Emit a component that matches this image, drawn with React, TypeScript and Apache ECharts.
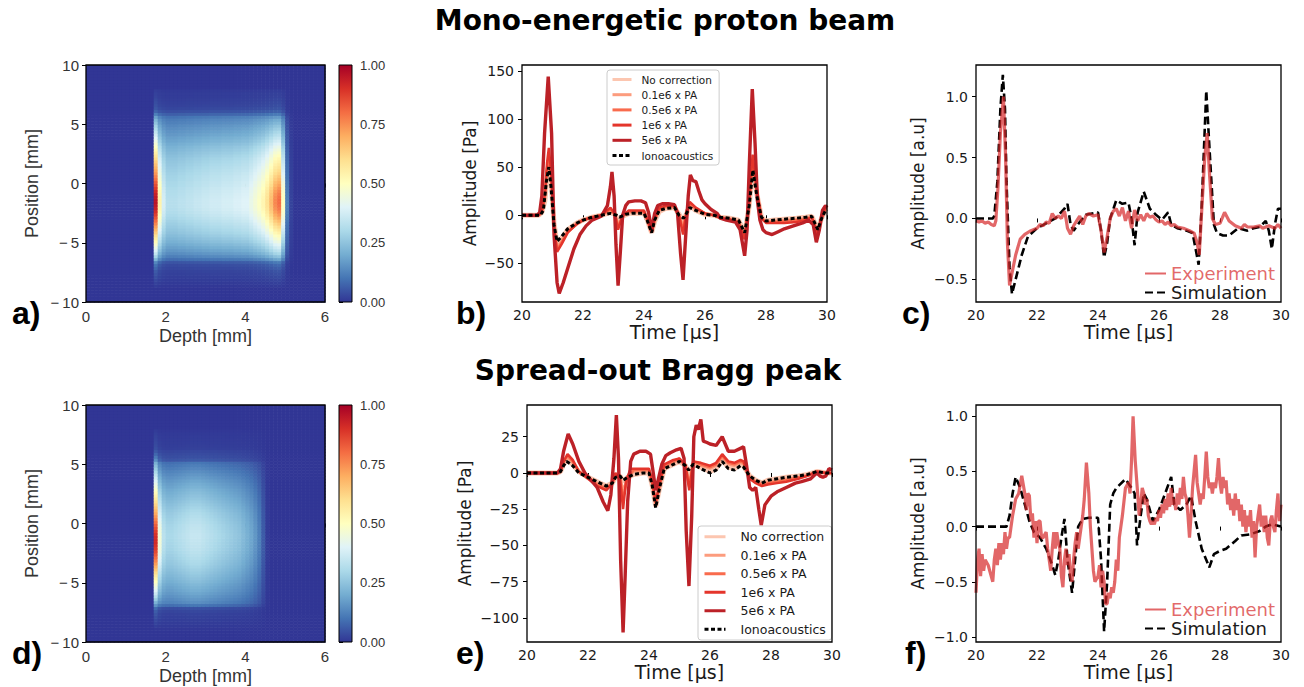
import React, { useEffect, useRef } from "react";
import * as echarts from "echarts";

// ---------------- DATA ----------------
// Dose maps, read as a broad "body" component plus narrow peaks.
// Depth profiles: 0.1 mm bins over 0..6 mm. Lateral profiles: 0.25 mm bins over -10..10 mm.
const BODY_DEPTH_A = [
  0, 0, 0, 0, 0, 0, 0, 0, 0, 0, 0, 0, 0, 0, 0, 0, 0,
  0.36, 0.34, 0.33, 0.32, 0.32, 0.32, 0.33, 0.33, 0.34, 0.34, 0.35, 0.35, 0.36,
  0.36, 0.37, 0.37, 0.37, 0.38, 0.38, 0.38, 0.39, 0.39, 0.4,
  0.4, 0.4, 0.41, 0.41, 0.41, 0.41, 0.41, 0.4, 0.38, 0.28, 0.08, 0.02,
  0, 0, 0, 0, 0, 0, 0, 0,
];
const PEAK_DEPTH_A = [
  0, 0, 0, 0, 0, 0, 0, 0, 0, 0, 0, 0, 0, 0, 0, 0, 0,
  0.6, 0.2, 0.05,
  0, 0, 0, 0, 0, 0, 0, 0, 0, 0, 0, 0, 0, 0, 0, 0, 0, 0, 0, 0, 0,
  0.03, 0.05, 0.08, 0.12, 0.18, 0.26, 0.36, 0.42, 0.22, 0.04,
  0, 0, 0, 0, 0, 0, 0, 0, 0,
];
const BODY_LAT_A = [
  0, 0, 0, 0, 0, 0.01, 0.02, 0.03,
  0.04, 0.05, 0.06, 0.08, 0.1, 0.15, 0.28, 0.37,
  0.44, 0.5, 0.55, 0.6, 0.65, 0.69, 0.73, 0.77,
  0.8, 0.83, 0.86, 0.89, 0.92, 0.95, 0.97, 0.99,
  1.0, 1.0, 1.0, 0.99, 0.98, 0.97, 0.96, 0.94,
  0.93, 0.91, 0.9, 0.88, 0.86, 0.84, 0.82, 0.8,
  0.78, 0.75, 0.72, 0.69, 0.66, 0.62, 0.58, 0.55,
  0.51, 0.48, 0.45, 0.42, 0.38, 0.35, 0.3, 0.2,
  0.12, 0.08, 0.06, 0.05, 0.04, 0.03, 0.03, 0.02,
  0, 0, 0, 0, 0, 0, 0, 0,
];
const PEAK_LAT = [
  0, 0, 0, 0, 0, 0.01, 0.02, 0.03,
  0.04, 0.05, 0.06, 0.08, 0.1, 0.13, 0.2, 0.26,
  0.31, 0.35, 0.39, 0.43, 0.47, 0.51, 0.55, 0.6,
  0.65, 0.7, 0.75, 0.8, 0.85, 0.89, 0.93, 0.96,
  0.98, 1.0, 1.0, 0.99, 0.97, 0.94, 0.9, 0.86,
  0.82, 0.78, 0.74, 0.7, 0.67, 0.64, 0.61, 0.58,
  0.55, 0.52, 0.49, 0.46, 0.43, 0.4, 0.37, 0.34,
  0.31, 0.28, 0.25, 0.22, 0.19, 0.16, 0.12, 0.08,
  0.05, 0.04, 0.035, 0.03, 0.025, 0.02, 0.015, 0.01,
  0, 0, 0, 0, 0, 0, 0, 0,
];
const BODY_DEPTH_D = [
  0, 0, 0, 0, 0, 0, 0, 0, 0, 0, 0, 0, 0, 0, 0, 0, 0,
  0.32, 0.31, 0.3, 0.3, 0.3, 0.31, 0.32, 0.33, 0.34, 0.35, 0.35, 0.35, 0.34,
  0.33, 0.32, 0.31, 0.3, 0.29, 0.28, 0.27, 0.26, 0.25, 0.23, 0.21, 0.19, 0.16,
  0.12, 0.06, 0.01,
  0, 0, 0, 0, 0, 0, 0, 0, 0, 0, 0, 0, 0, 0,
];
const PEAK_DEPTH_D = [
  0, 0, 0, 0, 0, 0, 0, 0, 0, 0, 0, 0, 0, 0, 0, 0, 0,
  0.6, 0.15, 0.03,
  0, 0, 0, 0, 0, 0, 0, 0, 0, 0, 0, 0, 0, 0, 0, 0, 0, 0, 0, 0,
  0, 0, 0, 0, 0, 0, 0, 0, 0, 0, 0, 0, 0, 0, 0, 0, 0, 0, 0, 0,
];
const BODY_LAT_D = [
  0, 0, 0, 0, 0.01, 0.02, 0.03, 0.04,
  0.05, 0.06, 0.08, 0.12, 0.3, 0.42, 0.46, 0.5,
  0.54, 0.58, 0.61, 0.64, 0.68, 0.71, 0.74, 0.77,
  0.8, 0.83, 0.86, 0.88, 0.9, 0.92, 0.94, 0.96,
  0.97, 0.98, 0.99, 1.0, 1.0, 0.99, 0.98, 0.97,
  0.95, 0.93, 0.91, 0.89, 0.86, 0.83, 0.8, 0.77,
  0.74, 0.71, 0.68, 0.65, 0.61, 0.58, 0.54, 0.5,
  0.46, 0.42, 0.38, 0.34, 0.3, 0.16, 0.12, 0.1,
  0.08, 0.05, 0.04, 0.035, 0.03, 0.025, 0.02, 0.01,
  0, 0, 0, 0, 0, 0, 0, 0,
];

const DEPTH_TICKS_INTERVAL = 2;
const POSITION_TICKS_INTERVAL = 5;
const COLORBAR_INTERVAL = 0.25;
const B_Y_TICKS = [-50, 0, 50, 100, 150];
const C_Y_TICKS = [-0.5, 0, 0.5, 1.0];
const E_Y_TICKS = [-100, -75, -50, -25, 0, 25];
const F_Y_TICKS = [-1, -0.5, 0, 0.5, 1];

const SERIES_NAMES = ["No correction", "0.1e6 x PA", "0.5e6 x PA", "1e6 x PA", "5e6 x PA", "Ionoacoustics"];

// Panel b (mono-energetic), amplitude [Pa] vs time [us]
const B_NOCORR = [[20,0],[20.55,0],[20.65,3],[20.75,15],[20.82,40],[20.88,53],[20.95,36],[21.05,-8],[21.15,-30],[21.3,-24],[21.5,-15],[21.8,-8],[22,-5],[22.3,-2],[22.6,0],[22.9,3],[23.05,1],[23.15,-6],[23.3,-1],[23.5,2],[24,2],[24.1,-4],[24.25,-18],[24.35,-6],[24.5,4],[24.7,7],[25,8],[25.15,1],[25.28,-6],[25.4,2],[25.5,10],[25.7,5],[26,1],[26.3,0],[26.5,-2],[26.8,-3],[27.1,-5],[27.3,-19],[27.45,10],[27.56,50],[27.7,22],[27.85,-2],[28,-6],[28.3,-5],[28.6,-4],[29,-3],[29.3,-2],[29.5,-1],[29.6,-8],[29.7,-16],[29.8,-5],[29.95,6],[30,7]];
const B_01 = [[20,0],[20.55,0],[20.65,3],[20.75,17],[20.82,44],[20.88,57],[20.95,38],[21.05,-10],[21.15,-33],[21.3,-26],[21.5,-16],[21.8,-8],[22,-5],[22.3,-2],[22.6,0],[22.9,4],[23.05,1],[23.15,-9],[23.3,-1],[23.5,3],[24,3],[24.1,-4],[24.25,-18],[24.35,-5],[24.5,5],[24.7,8],[25,8],[25.15,0],[25.28,-10],[25.4,3],[25.5,11],[25.7,6],[26,1],[26.3,0],[26.5,-2],[26.8,-3],[27.1,-6],[27.3,-21],[27.45,12],[27.56,53],[27.7,23],[27.85,-2],[28,-7],[28.3,-6],[28.6,-5],[29,-4],[29.3,-3],[29.5,-1],[29.6,-9],[29.7,-17],[29.8,-5],[29.95,6],[30,7]];
const B_05 = [[20,0],[20.55,0],[20.65,4],[20.75,19],[20.82,48],[20.88,62],[20.95,42],[21.05,-11],[21.15,-36],[21.3,-28],[21.5,-17],[21.8,-9],[22,-5],[22.3,-2],[22.6,0],[22.9,6],[23.05,1],[23.15,-12],[23.3,-1],[23.5,4],[24,4],[24.1,-4],[24.25,-18],[24.35,-5],[24.5,6],[24.7,9],[25,9],[25.15,0],[25.28,-15],[25.4,4],[25.5,12],[25.7,7],[26,2],[26.3,0],[26.5,-2],[26.8,-4],[27.1,-7],[27.3,-23],[27.45,13],[27.56,57],[27.7,25],[27.85,-3],[28,-7],[28.3,-7],[28.6,-6],[29,-5],[29.3,-4],[29.5,-2],[29.6,-10],[29.7,-19],[29.8,-5],[29.95,7],[30,8]];
const B_1E6 = [[20,0],[20.55,0],[20.65,4],[20.75,22],[20.82,54],[20.88,70],[20.95,46],[21.05,-12],[21.15,-38],[21.3,-30],[21.5,-18],[21.8,-9],[22,-5],[22.3,-2],[22.6,0],[22.9,8],[23.05,1],[23.15,-15],[23.3,0],[23.5,5],[24,5],[24.1,-4],[24.25,-18],[24.35,-4],[24.5,8],[24.7,10],[25,10],[25.15,0],[25.28,-20],[25.4,5],[25.5,14],[25.7,8],[26,2],[26.3,0],[26.5,-3],[26.8,-4],[27.1,-8],[27.3,-25],[27.45,14],[27.56,63],[27.7,27],[27.85,-3],[28,-8],[28.3,-8],[28.6,-8],[29,-7],[29.3,-5],[29.5,-2],[29.6,-11],[29.7,-21],[29.8,-5],[29.95,8],[30,9]];
const B_5E6 = [[20,0],[20.5,0],[20.58,3],[20.65,20],[20.74,85],[20.86,144],[20.97,85],[21.05,-20],[21.15,-70],[21.22,-81],[21.35,-70],[21.5,-55],[21.7,-35],[21.9,-20],[22.1,-11],[22.3,-5],[22.6,-1],[22.8,10],[22.9,30],[22.95,45],[23.02,20],[23.08,-30],[23.15,-73],[23.22,-40],[23.3,0],[23.4,10],[23.5,14],[23.7,15],[23.9,15],[24.05,13],[24.15,3],[24.25,-15],[24.35,2],[24.45,10],[24.6,12],[24.8,12],[25,11],[25.1,2],[25.2,-40],[25.28,-67],[25.36,-25],[25.45,20],[25.52,42],[25.6,36],[25.7,35],[25.8,25],[25.9,16],[26,12],[26.2,6],[26.4,2],[26.5,-3],[26.7,-5],[27,-7],[27.15,-15],[27.3,-42],[27.38,-15],[27.45,50],[27.55,131],[27.64,75],[27.72,15],[27.8,-5],[27.9,-15],[28,-18],[28.2,-20],[28.4,-17],[28.6,-14],[28.8,-12],[29,-10],[29.2,-8],[29.4,-5],[29.55,-10],[29.65,-28],[29.75,-15],[29.85,5],[29.95,10],[30,8]];
const B_IONO = [[20,0],[20.6,0],[20.7,5],[20.8,35],[20.88,50],[20.95,30],[21.05,-10],[21.15,-27],[21.3,-22],[21.5,-14],[21.8,-8],[22,-5],[22.3,-2],[22.6,0],[22.9,2],[23.1,0],[23.2,-2],[23.4,1],[23.6,2],[24,2],[24.1,-5],[24.25,-18],[24.35,-5],[24.5,5],[24.7,7],[25,8],[25.15,0],[25.3,-3],[25.5,8],[25.7,5],[26,1],[26.3,0],[26.5,-2],[26.8,-3],[27.1,-5],[27.3,-18],[27.45,10],[27.57,47],[27.7,20],[27.85,-2],[28,-6],[28.3,-5],[28.6,-4],[29,-3],[29.3,-2],[29.5,-1],[29.6,-8],[29.7,-15],[29.8,-5],[29.95,5],[30,6]];

// Panel c (mono-energetic), normalised amplitude
const C_SIM = [[20,0],[20.55,0],[20.6,0.02],[20.7,0.3],[20.8,0.9],[20.88,1.18],[20.95,0.9],[21.0,0.3],[21.1,-0.4],[21.18,-0.62],[21.3,-0.5],[21.5,-0.3],[21.7,-0.15],[22,-0.08],[22.3,-0.04],[22.6,0],[22.9,0.08],[23,0.12],[23.1,-0.05],[23.2,-0.1],[23.4,-0.03],[23.6,0.03],[24,0.05],[24.1,-0.1],[24.2,-0.32],[24.3,-0.2],[24.4,0],[24.6,0.15],[24.8,0.12],[25,0.13],[25.1,0],[25.2,-0.22],[25.3,0.05],[25.5,0.22],[25.7,0.08],[25.9,0.03],[26.1,-0.01],[26.3,0.05],[26.4,-0.05],[26.6,-0.08],[26.9,-0.1],[27.1,-0.12],[27.3,-0.38],[27.4,0.1],[27.55,1.05],[27.65,0.6],[27.8,-0.05],[27.9,-0.12],[28.1,-0.14],[28.3,-0.14],[28.6,-0.08],[28.9,-0.1],[29.1,-0.08],[29.3,-0.07],[29.5,-0.02],[29.6,-0.1],[29.7,-0.25],[29.8,-0.05],[29.9,0.08],[30,0.08]];
const C_EXP = [[20,-0.02],[20.1,-0.03],[20.2,-0.02],[20.3,-0.04],[20.4,-0.03],[20.5,-0.05],[20.6,-0.06],[20.65,-0.02],[20.72,0.25],[20.8,0.7],[20.9,1.0],[20.97,0.5],[21.03,-0.2],[21.1,-0.55],[21.18,-0.45],[21.3,-0.3],[21.45,-0.17],[21.6,-0.13],[21.8,-0.1],[22,-0.08],[22.1,-0.05],[22.2,-0.06],[22.3,-0.03],[22.4,-0.04],[22.5,0.04],[22.6,0.0],[22.7,0.02],[22.8,0.0],[22.9,0.06],[22.95,0.0],[23.0,-0.08],[23.1,-0.13],[23.2,-0.06],[23.3,-0.02],[23.4,0.02],[23.5,-0.05],[23.6,0.02],[23.7,0.04],[23.85,0.02],[24,0.03],[24.1,-0.1],[24.2,-0.28],[24.3,-0.15],[24.4,0.0],[24.5,0.06],[24.6,0.08],[24.7,0.02],[24.8,0.09],[24.9,-0.02],[25,0.06],[25.1,-0.08],[25.2,0.07],[25.3,-0.02],[25.4,0.03],[25.5,-0.02],[25.6,0.04],[25.7,0.01],[25.8,0.02],[25.9,-0.01],[26,-0.03],[26.1,-0.02],[26.2,-0.05],[26.3,-0.03],[26.4,-0.06],[26.5,-0.05],[26.6,-0.07],[26.8,-0.08],[27,-0.1],[27.15,-0.12],[27.25,-0.2],[27.32,-0.3],[27.42,0.15],[27.5,0.5],[27.58,0.7],[27.66,0.35],[27.75,0.0],[27.85,-0.05],[28,-0.04],[28.15,0.05],[28.3,-0.02],[28.5,-0.06],[28.7,-0.08],[28.8,-0.05],[28.9,-0.07],[29.1,-0.07],[29.3,-0.06],[29.4,-0.08],[29.6,-0.06],[29.8,-0.08],[29.9,-0.05],[30,-0.08]];

// Panel e (SOBP), amplitude [Pa]
const E_NOCORR = [[20,0],[21,0],[21.1,1],[21.2,6],[21.3,9],[21.5,6],[21.7,1],[22,-3],[22.3,-6],[22.6,-9],[22.8,-7],[22.9,-3],[23.05,-2],[23.15,-6],[23.3,-3],[23.5,-1],[23.8,0],[24,0],[24.1,-8],[24.22,-23],[24.35,-10],[24.5,3],[24.8,6],[25,8],[25.2,5],[25.32,-1],[25.45,6],[25.7,4],[26,1],[26.2,3],[26.4,9],[26.6,4],[26.8,3],[27,6],[27.1,5],[27.3,-2],[27.5,-5],[27.7,-7],[27.9,-5],[28.2,-4],[28.5,-3],[28.9,-2],[29.2,-1],[29.5,1],[29.8,0],[30,0]];
const E_01 = [[20,0],[21,0],[21.1,1],[21.2,7],[21.33,11],[21.5,7],[21.7,1],[22,-3],[22.3,-7],[22.6,-10],[22.8,-7],[22.9,-2],[23.05,-2],[23.15,-12],[23.3,-3],[23.5,1],[23.8,1],[24,1],[24.1,-7],[24.22,-22],[24.35,-9],[24.5,4],[24.8,7],[25,9],[25.2,5],[25.32,-6],[25.45,7],[25.7,5],[26,3],[26.2,5],[26.4,11],[26.6,6],[26.8,5],[27,7],[27.1,6],[27.3,-3],[27.5,-6],[27.7,-7],[27.9,-6],[28.2,-5],[28.5,-4],[28.9,-3],[29.2,-1],[29.5,1],[29.8,0],[30,0]];
const E_05 = [[20,0],[21,0],[21.1,1],[21.2,8],[21.33,12],[21.5,8],[21.7,1],[22,-3],[22.3,-8],[22.6,-11],[22.8,-7],[22.9,-1],[23.05,-3],[23.15,-18],[23.3,-3],[23.5,2],[23.8,2],[24,2],[24.1,-6],[24.22,-21],[24.35,-8],[24.5,5],[24.8,8],[25,10],[25.2,5],[25.32,-10],[25.45,8],[25.7,6],[26,4],[26.2,6],[26.4,12],[26.6,7],[26.8,6],[27,8],[27.1,7],[27.3,-3],[27.5,-6],[27.7,-8],[27.9,-7],[28.2,-6],[28.5,-5],[28.9,-3],[29.2,-2],[29.5,1],[29.8,0],[30,0]];
const E_1E6 = [[20,0],[21,0],[21.1,1],[21.2,8],[21.33,13],[21.5,9],[21.7,1],[22,-4],[22.3,-9],[22.6,-12],[22.8,-7],[22.9,0],[23.05,-4],[23.15,-25],[23.25,-5],[23.4,3],[23.6,3],[24,3],[24.1,-5],[24.22,-20],[24.35,-7],[24.5,6],[24.8,9],[25,10],[25.2,5],[25.32,-12],[25.45,8],[25.7,7],[26,5],[26.2,7],[26.4,13],[26.6,8],[26.8,7],[27,9],[27.1,8],[27.3,-4],[27.5,-7],[27.7,-9],[27.9,-8],[28.2,-7],[28.5,-6],[28.9,-4],[29.2,-2],[29.5,1],[29.8,0],[30,0]];
const E_5E6 = [[20,0],[21,0],[21.1,3],[21.2,15],[21.35,27],[21.5,20],[21.7,8],[21.9,0],[22.1,-5],[22.3,-10],[22.5,-20],[22.65,-26],[22.75,-15],[22.85,10],[22.93,40],[23.0,10],[23.07,-60],[23.15,-110],[23.22,-70],[23.3,-20],[23.4,8],[23.5,13],[23.7,15],[23.9,15],[24.05,13],[24.12,3],[24.22,-12],[24.32,-3],[24.42,6],[24.55,12],[24.7,14],[24.9,16],[25.05,17],[25.15,10],[25.22,-40],[25.31,-78],[25.4,-30],[25.47,25],[25.55,33],[25.62,30],[25.7,37],[25.78,22],[25.9,21],[26.0,20],[26.2,19],[26.4,25],[26.5,20],[26.6,15],[26.8,15],[27.0,17],[27.1,18],[27.2,5],[27.3,-10],[27.4,-12],[27.5,-10],[27.6,-25],[27.68,-36],[27.8,-22],[28.0,-16],[28.2,-13],[28.5,-10],[28.8,-7],[29.0,-6],[29.3,-4],[29.5,0],[29.6,-2],[29.7,-3],[29.8,-2],[29.9,3],[30,2]];
const E_IONO = [[20,0],[21,0],[21.1,1],[21.2,5],[21.3,8],[21.5,5],[21.7,0],[22,-3],[22.3,-6],[22.6,-9],[22.8,-7],[22.9,-3],[23.05,-2],[23.15,-5],[23.3,-3],[23.5,-1],[23.8,0],[24,0],[24.1,-8],[24.22,-24],[24.35,-10],[24.5,3],[24.8,6],[25,8],[25.2,5],[25.3,2],[25.45,6],[25.7,3],[26,0],[26.2,2],[26.4,8],[26.6,3],[26.8,2],[27,5],[27.1,4],[27.3,-2],[27.5,-5],[27.7,-7],[27.9,-5],[28.2,-4],[28.5,-3],[28.9,-2],[29.2,-1],[29.5,1],[29.8,0],[30,0]];

// Panel f (SOBP), normalised amplitude
const F_SIM = [[20,0],[21,0],[21.1,0.1],[21.2,0.3],[21.3,0.45],[21.45,0.35],[21.6,0.2],[21.75,0.05],[21.9,-0.05],[22.1,-0.1],[22.3,-0.2],[22.5,-0.35],[22.6,-0.44],[22.7,-0.3],[22.8,-0.1],[22.9,0.07],[23.0,-0.3],[23.15,-0.6],[23.25,-0.3],[23.35,0],[23.5,0.07],[23.7,0.08],[24,0.08],[24.1,-0.3],[24.2,-0.95],[24.3,-0.5],[24.4,0.2],[24.5,0.3],[24.6,0.35],[24.9,0.43],[25.1,0.35],[25.2,0.3],[25.28,-0.17],[25.4,0.1],[25.5,0.3],[25.6,0.25],[25.8,0.05],[26,0.15],[26.2,0.3],[26.4,0.45],[26.5,0.2],[26.7,0.15],[26.9,0.2],[27.05,0.28],[27.2,0.05],[27.4,-0.2],[27.65,-0.37],[27.8,-0.25],[28,-0.22],[28.2,-0.2],[28.5,-0.13],[28.7,-0.08],[29,-0.07],[29.3,-0.04],[29.5,0],[29.7,0.02],[30,0]];
const F_EXP = [[20,-0.6],[20.05,-0.3],[20.1,-0.2],[20.15,-0.45],[20.2,-0.25],[20.25,-0.4],[20.3,-0.3],[20.4,-0.35],[20.5,-0.45],[20.55,-0.5],[20.6,-0.3],[20.65,-0.2],[20.7,-0.35],[20.75,-0.15],[20.8,-0.3],[20.85,-0.15],[20.9,-0.25],[20.95,-0.05],[21,-0.2],[21.05,-0.1],[21.1,-0.1],[21.2,0.1],[21.3,0.25],[21.4,0.3],[21.5,0.46],[21.6,0.3],[21.65,0.15],[21.7,0.3],[21.75,0.28],[21.8,0.05],[21.85,0.12],[21.9,-0.1],[21.95,0.05],[22,-0.15],[22.05,0.05],[22.1,0.05],[22.15,-0.1],[22.2,-0.1],[22.3,-0.05],[22.35,-0.2],[22.45,-0.4],[22.5,-0.2],[22.55,-0.05],[22.6,-0.2],[22.65,-0.05],[22.7,-0.15],[22.75,-0.2],[22.8,-0.45],[22.85,-0.55],[22.9,-0.3],[22.95,-0.2],[23,-0.35],[23.05,-0.25],[23.1,-0.45],[23.15,-0.5],[23.2,-0.3],[23.25,-0.15],[23.3,-0.05],[23.35,-0.2],[23.4,-0.1],[23.5,0.1],[23.55,0.25],[23.62,0.58],[23.7,0.3],[23.75,0],[23.8,-0.2],[23.85,-0.4],[23.9,-0.5],[24,-0.45],[24.05,-0.35],[24.1,-0.55],[24.15,-0.4],[24.2,-0.5],[24.25,-0.7],[24.3,-0.7],[24.35,-0.6],[24.4,-0.65],[24.45,-0.55],[24.5,-0.6],[24.55,-0.5],[24.6,-0.3],[24.65,-0.4],[24.7,-0.1],[24.8,0.1],[24.9,0.35],[25,0.4],[25.05,0.3],[25.1,0.6],[25.15,1.0],[25.22,0.6],[25.3,0.3],[25.35,0.1],[25.4,0.2],[25.45,0.35],[25.5,0.3],[25.55,0.2],[25.6,0.25],[25.65,0.1],[25.7,0.05],[25.75,0.02],[25.8,0.05],[25.85,0.02],[25.9,0.08],[25.95,0.05],[26,0.15],[26.05,0.08],[26.1,0.2],[26.15,0.12],[26.2,0.25],[26.25,0.15],[26.3,0.3],[26.35,0.18],[26.4,0.35],[26.45,0.2],[26.5,0.25],[26.55,0.15],[26.6,0.3],[26.65,0.2],[26.7,0.35],[26.75,0.25],[26.8,0.45],[26.85,0.3],[26.9,0.25],[26.95,0.1],[27,-0.1],[27.05,0.1],[27.1,0.35],[27.15,0.5],[27.2,0.65],[27.25,0.4],[27.3,0.3],[27.35,0.2],[27.4,0.3],[27.45,0.25],[27.5,0.45],[27.55,0.68],[27.6,0.45],[27.65,0.35],[27.7,0.4],[27.75,0.3],[27.8,0.4],[27.85,0.35],[27.9,0.45],[27.95,0.62],[28,0.4],[28.05,0.3],[28.1,0.45],[28.15,0.35],[28.2,0.42],[28.25,0.2],[28.3,0.3],[28.35,0.15],[28.4,0.25],[28.45,0.1],[28.5,0.3],[28.55,0.15],[28.6,0.25],[28.65,0.05],[28.7,0.2],[28.75,0],[28.8,0.15],[28.85,-0.05],[28.9,0.1],[28.95,0],[29,0.15],[29.05,-0.1],[29.1,0.05],[29.15,-0.28],[29.2,0],[29.25,0.1],[29.3,0.2],[29.35,0],[29.4,0.1],[29.45,-0.05],[29.5,0.1],[29.55,-0.1],[29.6,-0.17],[29.65,0.05],[29.7,0.1],[29.75,0],[29.8,-0.05],[29.85,0.15],[29.9,0.3],[29.95,0.05],[30,0.2]];

// ---------------- STYLE / LAYOUT ----------------
const RDYLBU_R = ["#313695", "#4575b4", "#74add1", "#abd9e9", "#e0f3f8", "#ffffbf", "#fee090", "#fdae61", "#f46d43", "#d73027", "#a50026"];
const RED_COLORS = ["#fcc6b0", "#fc9c7e", "#f96b4d", "#e4352b", "#bc2127"];
const EXP_COLOR = "rgba(214,39,40,0.7)";
const TEXT = "#1a1a1a";
const DV = "DejaVu Sans";
const LS = "Liberation Sans";

const L = {
  a: { left: 86, top: 65, width: 239, height: 237 },
  aBar: { left: 339, top: 65, width: 13, height: 237 },
  b: { left: 522, top: 65, width: 305, height: 237 },
  c: { left: 976, top: 65, width: 305, height: 237 },
  d: { left: 86, top: 405, width: 239, height: 237 },
  dBar: { left: 339, top: 405, width: 13, height: 237 },
  e: { left: 527, top: 405, width: 305, height: 237 },
  f: { left: 976, top: 405, width: 305, height: 237 },
};
const GRID_ORDER = ["a", "aBar", "b", "c", "d", "dBar", "e", "f"] as const;

// cell value = body component + peak component (each depth x lateral)
function buildCells(bodyDepth: number[], bodyLat: number[], peakDepth: number[], peakLat: number[]) {
  const dx = 6 / bodyDepth.length;
  const dy = 20 / bodyLat.length;
  const out: number[][] = [];
  for (let i = 0; i < bodyDepth.length; i++) {
    for (let j = 0; j < bodyLat.length; j++) {
      const v = bodyDepth[i] * bodyLat[j] + peakDepth[i] * peakLat[j];
      out.push([dx * (i + 0.5), -10 + dy * (j + 0.5), Math.min(1, v)]);
    }
  }
  return out;
}

const minusFmt = (dec: number) => (v: number) => {
  const s = Math.abs(v).toFixed(dec);
  return v < -1e-9 ? "\u2212" + s : s;
};
const minusSpaceFmt = (v: number) => (v < 0 ? "\u2212\u2009" + Math.abs(v) : String(v));

function heatSeries(gi: number, cells: number[][], nx: number, ny: number) {
  const hx = 6 / nx / 2;
  const hy = 20 / ny / 2;
  return {
    type: "custom",
    coordinateSystem: "cartesian2d",
    xAxisIndex: gi,
    yAxisIndex: gi,
    data: cells,
    encode: { x: 0, y: 1 },
    silent: true,
    clip: true,
    renderItem: (_p: any, api: any) => {
      const x = api.value(0);
      const y = api.value(1);
      const p0 = api.coord([x - hx, y + hy]);
      const p1 = api.coord([x + hx, y - hy]);
      return {
        type: "rect",
        shape: { x: p0[0], y: p0[1], width: p1[0] - p0[0] + 0.6, height: p1[1] - p0[1] + 0.6 },
        style: { fill: api.visual("color") },
      };
    },
  };
}

function lineSeries(gi: number, name: string, data: number[][], color: string, width: number, dash?: any, z = 2) {
  return {
    type: "line",
    name,
    xAxisIndex: gi,
    yAxisIndex: gi,
    data,
    showSymbol: false,
    symbol: "none",
    smooth: false,
    z,
    lineStyle: { color, width, type: dash || "solid" },
    itemStyle: { color },
    clip: true,
  };
}

const tickStyle = { show: true, length: 4, inside: false, lineStyle: { color: "#000", width: 1 } };

function heatX(gi: number) {
  return {
    gridIndex: gi, type: "value", min: 0, max: 6, interval: DEPTH_TICKS_INTERVAL,
    axisLine: { show: false }, axisTick: tickStyle, splitLine: { show: false },
    axisLabel: { color: "#333", fontSize: 15, fontFamily: LS, margin: 7 },
    name: "Depth [mm]", nameLocation: "middle", nameGap: 25,
    nameTextStyle: { color: "#333", fontSize: 18, fontFamily: LS },
  };
}
function heatY(gi: number) {
  return {
    gridIndex: gi, type: "value", min: -10, max: 10, interval: POSITION_TICKS_INTERVAL,
    axisLine: { show: false }, axisTick: tickStyle, splitLine: { show: false },
    axisLabel: { color: "#333", fontSize: 15, fontFamily: LS, margin: 7, formatter: minusSpaceFmt },
    name: "Position [mm]", nameLocation: "middle", nameGap: 45,
    nameTextStyle: { color: "#333", fontSize: 18, fontFamily: LS },
  };
}
function barX(gi: number) {
  return { gridIndex: gi, type: "value", min: 0, max: 1, show: false };
}
function barY(gi: number) {
  return {
    gridIndex: gi, type: "value", position: "right", min: 0, max: 1, interval: COLORBAR_INTERVAL,
    axisLine: { show: false }, axisTick: tickStyle, splitLine: { show: false },
    axisLabel: { color: "#333", fontSize: 13, fontFamily: LS, margin: 8, formatter: (v: number) => v.toFixed(2) },
  };
}
function timeX(gi: number) {
  return {
    gridIndex: gi, type: "value", min: 20, max: 30, interval: 2,
    axisLine: { show: false }, axisTick: tickStyle, splitLine: { show: false },
    axisLabel: { color: TEXT, fontSize: 14, fontFamily: DV, margin: 6 },
    name: "Time [\u03bcs]", nameLocation: "middle", nameGap: 19,
    nameTextStyle: { color: TEXT, fontSize: 19, fontFamily: DV },
  };
}
function ampY(gi: number, min: number, max: number, ticks: number[], dec: number, name: string, gap: number) {
  return {
    gridIndex: gi, type: "value", min, max,
    axisLine: { show: false },
    axisTick: { ...tickStyle, customValues: ticks },
    splitLine: { show: false },
    axisLabel: { color: TEXT, fontSize: 14, fontFamily: DV, margin: 8, formatter: minusFmt(dec), customValues: ticks },
    name, nameLocation: "middle", nameGap: gap,
    nameTextStyle: { color: TEXT, fontSize: 17, fontFamily: DV },
  };
}

function frame(k: keyof typeof L) {
  const g = L[k];
  return {
    type: "rect", z: 100, silent: true,
    shape: { x: g.left, y: g.top, width: g.width, height: g.height },
    style: { fill: "none", stroke: "#000", lineWidth: 1.3 },
  };
}
function colorbar(k: keyof typeof L) {
  const g = L[k];
  const stops = RDYLBU_R.map((c, i) => ({ offset: i / (RDYLBU_R.length - 1), color: c }));
  return {
    type: "rect", z: 90, silent: true,
    shape: { x: g.left, y: g.top, width: g.width, height: g.height },
    style: { fill: new echarts.graphic.LinearGradient(0, 1, 0, 0, stops), stroke: "#000", lineWidth: 1 },
  };
}
function text(str: string, x: number, y: number, font: string, align = "left") {
  return {
    type: "text", z: 100, silent: true, x, y,
    style: { text: str, font, fill: "#000", align, verticalAlign: "middle", textAlign: align, textVerticalAlign: "middle" },
  };
}

export default function App() {
  const ref = useRef<HTMLDivElement>(null);
  useEffect(() => {
    if (!ref.current) return;
    const chart = echarts.init(ref.current, undefined, { renderer: "svg" });

    const grid = GRID_ORDER.map((k) => ({ ...L[k], containLabel: false, show: false }));
    const cellsA = buildCells(BODY_DEPTH_A, BODY_LAT_A, PEAK_DEPTH_A, PEAK_LAT);
    const cellsD = buildCells(BODY_DEPTH_D, BODY_LAT_D, PEAK_DEPTH_D, PEAK_LAT);
    const IONO_DASH = [4, 2.5];
    const SIM_DASH = [8, 4];

    const series: any[] = [
      heatSeries(0, cellsA, BODY_DEPTH_A.length, BODY_LAT_A.length),
      { type: "line", xAxisIndex: 1, yAxisIndex: 1, data: [], showSymbol: false },
      lineSeries(2, SERIES_NAMES[0], B_NOCORR, RED_COLORS[0], 5),
      lineSeries(2, SERIES_NAMES[1], B_01, RED_COLORS[1], 2.5),
      lineSeries(2, SERIES_NAMES[2], B_05, RED_COLORS[2], 2.5),
      lineSeries(2, SERIES_NAMES[3], B_1E6, RED_COLORS[3], 2.5),
      lineSeries(2, SERIES_NAMES[4], B_5E6, RED_COLORS[4], 3.4),
      lineSeries(2, SERIES_NAMES[5], B_IONO, "#000", 3, IONO_DASH, 3),
      lineSeries(3, "Simulation", C_SIM, "#000", 2.6, SIM_DASH),
      lineSeries(3, "Experiment", C_EXP, EXP_COLOR, 3.2, undefined, 3),
      heatSeries(4, cellsD, BODY_DEPTH_D.length, BODY_LAT_D.length),
      { type: "line", xAxisIndex: 5, yAxisIndex: 5, data: [], showSymbol: false },
      lineSeries(6, SERIES_NAMES[0], E_NOCORR, RED_COLORS[0], 5),
      lineSeries(6, SERIES_NAMES[1], E_01, RED_COLORS[1], 2.5),
      lineSeries(6, SERIES_NAMES[2], E_05, RED_COLORS[2], 2.5),
      lineSeries(6, SERIES_NAMES[3], E_1E6, RED_COLORS[3], 2.5),
      lineSeries(6, SERIES_NAMES[4], E_5E6, RED_COLORS[4], 3.4),
      lineSeries(6, SERIES_NAMES[5], E_IONO, "#000", 3, IONO_DASH, 3),
      lineSeries(7, "Simulation", F_SIM, "#000", 2.6, SIM_DASH),
      lineSeries(7, "Experiment", F_EXP, EXP_COLOR, 3.2, undefined, 3),
    ];

    const expLegendData = [
      { name: "Experiment", textStyle: { color: EXP_COLOR } },
      { name: "Simulation", textStyle: { color: TEXT } },
    ];
    const hideSymbol = { opacity: 0 };

    const option: any = {
      animation: false,
      backgroundColor: "#fff",
      grid,
      xAxis: [heatX(0), barX(1), timeX(2), timeX(3), heatX(4), barX(5), timeX(6), timeX(7)],
      yAxis: [
        heatY(0),
        barY(1),
        ampY(2, -90, 156, B_Y_TICKS, 0, "Amplitude [Pa]", 44),
        ampY(3, -0.686, 1.26, C_Y_TICKS, 1, "Amplitude [a.u]", 50),
        heatY(4),
        barY(5),
        ampY(6, -116.6, 46.9, E_Y_TICKS, 0, "Amplitude [Pa]", 54),
        ampY(7, -1.046, 1.102, F_Y_TICKS, 1, "Amplitude [a.u]", 50),
      ],
      visualMap: [
        {
          type: "continuous", show: false, min: 0, max: 1, dimension: 2,
          seriesIndex: [0, 10], inRange: { color: RDYLBU_R },
        },
      ],
      legend: [
        {
          data: SERIES_NAMES, orient: "vertical", left: 607, top: 70,
          padding: [3, 6, 3, 4], itemWidth: 19, itemHeight: 10, itemGap: 2.2,
          backgroundColor: "rgba(255,255,255,0.85)", borderColor: "#cccccc", borderWidth: 1, borderRadius: 3,
          textStyle: { fontSize: 10.5, fontFamily: DV, color: TEXT, lineHeight: 13, padding: [0, 0, 0, 5] },
          itemStyle: hideSymbol, lineStyle: { width: 3 }, selectedMode: false, z: 20,
        },
        {
          data: SERIES_NAMES, orient: "vertical", left: 698, top: 526,
          padding: [3, 6, 3, 5], itemWidth: 21, itemHeight: 10, itemGap: 3,
          backgroundColor: "rgba(255,255,255,0.85)", borderColor: "#cccccc", borderWidth: 1, borderRadius: 3,
          textStyle: { fontSize: 12.5, fontFamily: DV, color: TEXT, lineHeight: 15.5, padding: [0, 0, 0, 10] },
          itemStyle: hideSymbol, lineStyle: { width: 3 }, selectedMode: false, z: 20,
        },
        {
          data: expLegendData, orient: "vertical", left: 1144, top: 264, padding: 0,
          itemWidth: 21, itemHeight: 10, itemGap: 0,
          textStyle: { fontSize: 18, fontFamily: DV, lineHeight: 19 },
          itemStyle: hideSymbol, selectedMode: false, z: 20,
        },
        {
          data: expLegendData, orient: "vertical", left: 1144, top: 600, padding: 0,
          itemWidth: 21, itemHeight: 10, itemGap: 0,
          textStyle: { fontSize: 18, fontFamily: DV, lineHeight: 19 },
          itemStyle: hideSymbol, selectedMode: false, z: 20,
        },
      ],
      graphic: [
        frame("a"), frame("b"), frame("c"), frame("d"), frame("e"), frame("f"),
        colorbar("aBar"), colorbar("dBar"),
        text("Mono-energetic proton beam", 665, 20, `bold 28px "${DV}"`, "center"),
        text("Spread-out Bragg peak", 658, 370, `bold 28px "${DV}"`, "center"),
        text("a)", 12, 313, `bold 32px "${LS}"`),
        text("b)", 456, 313, `bold 32px "${LS}"`),
        text("c)", 902, 313, `bold 32px "${LS}"`),
        text("d)", 12, 653, `bold 32px "${LS}"`),
        text("e)", 456, 653, `bold 32px "${LS}"`),
        text("f)", 905, 653, `bold 32px "${LS}"`),
      ],
      series,
    };

    chart.setOption(option);
    return () => chart.dispose();
  }, []);

  return (
    <div
      ref={ref}
      style={{ position: "absolute", left: 0, top: 0, width: 1304, height: 687, background: "#fff" }}
    />
  );
}
